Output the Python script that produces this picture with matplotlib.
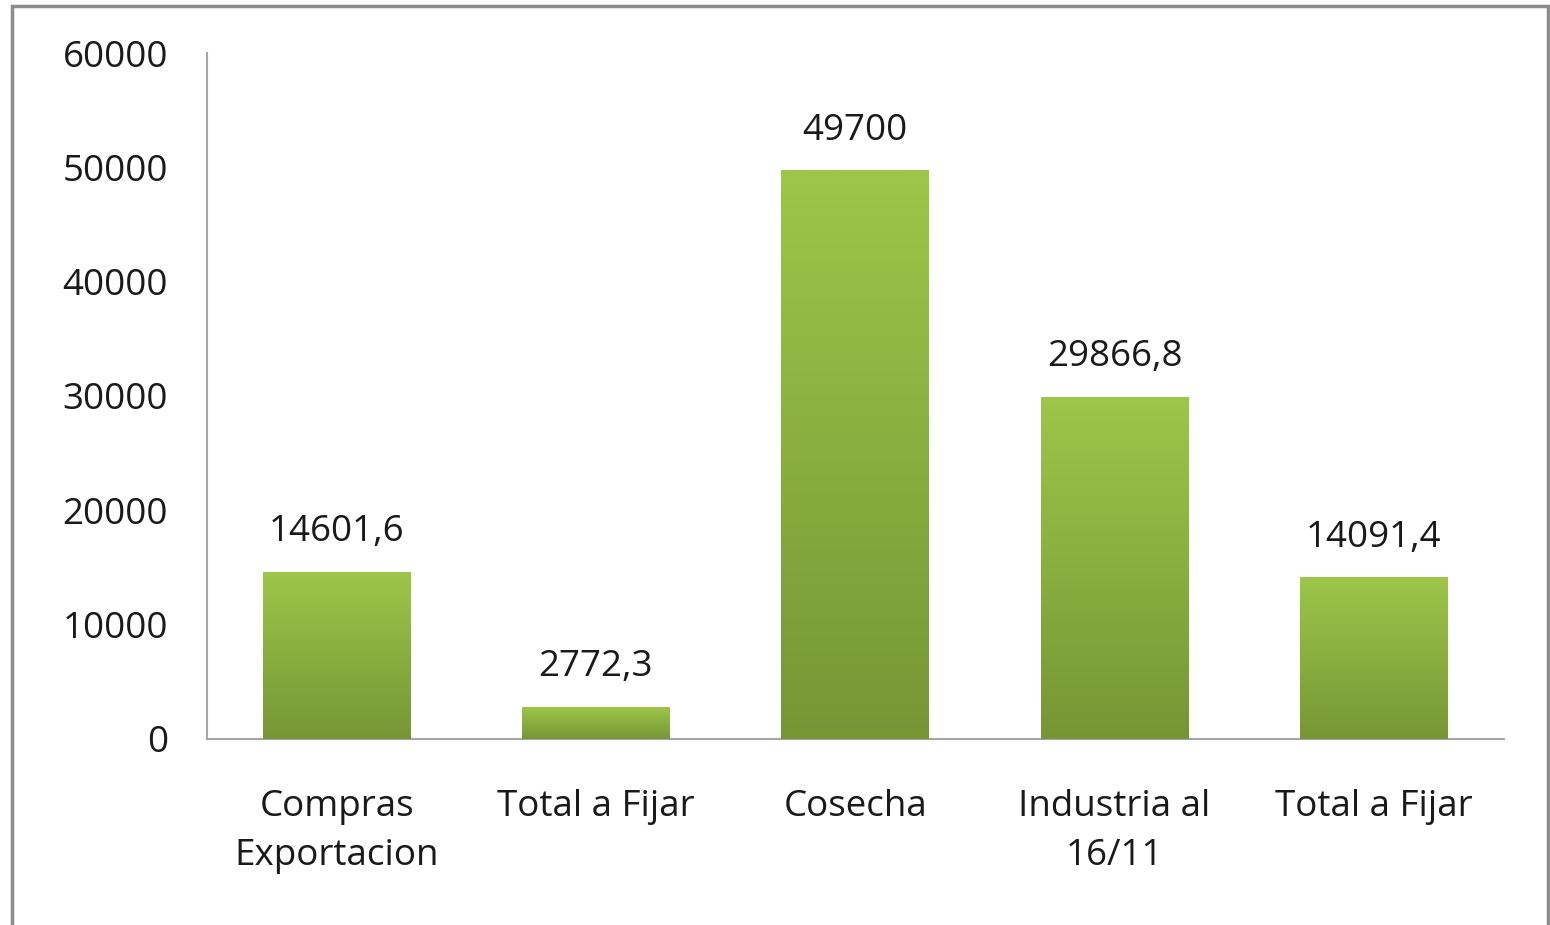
import numpy as np
import matplotlib.pyplot as plt
from matplotlib.colors import LinearSegmentedColormap
from matplotlib.patches import Rectangle

# data
categories = ['Compras\nExportacion', 'Total a Fijar', 'Cosecha', 'Industria al\n16/11', 'Total a Fijar']
values = [14601.6, 2772.3, 49700, 29866.8, 14091.4]
value_labels = ['14601,6', '2772,3', '49700', '29866,8', '14091,4']
yticks = [0, 10000, 20000, 30000, 40000, 50000, 60000]

plt.rcParams['font.family'] = ['Open Sans', 'DejaVu Sans']

fig = plt.figure(figsize=(15.5, 9.25), dpi=100)
ax = fig.add_axes([0.1335, 0.2011, 0.8365, 0.7416])

x = np.arange(len(categories))
width = 0.57
bars = ax.bar(x, values, width=width, color='#8BAE42', zorder=2)

# vertical gradient on each bar, light on top, darker at the bottom
cmap = LinearSegmentedColormap.from_list('grn', ['#769635', '#9DC64A'])
grad = np.linspace(0, 1, 256).reshape(-1, 1)
for b in bars:
    x0 = b.get_x()
    h = b.get_height()
    ax.imshow(grad, cmap=cmap, origin='lower', aspect='auto',
              extent=(x0, x0 + width, 0, h), zorder=3)

fs = 26.5
for xi, v, lab in zip(x, values, value_labels):
    ax.annotate(lab, (xi, v), xytext=(0, 16), textcoords='offset points',
                ha='center', va='bottom', fontsize=fs, color='#1a1a1a')

ax.set_xlim(-0.5, len(categories) - 0.5)
ax.set_ylim(0, 60000)
ax.set_yticks(yticks)
ax.set_yticklabels([str(t) for t in yticks], fontsize=fs, color='#1a1a1a')
ax.set_xticks(x)
ax.set_xticklabels(categories, fontsize=fs, color='#1a1a1a', linespacing=1.5)
ax.tick_params(axis='y', length=0, pad=28)
ax.tick_params(axis='x', length=0, pad=36)

for s in ['top', 'right']:
    ax.spines[s].set_visible(False)
ax.spines['left'].set_color('#A6A6A6')
ax.spines['bottom'].set_color('#A6A6A6')
ax.spines['left'].set_linewidth(1.5)
ax.spines['bottom'].set_linewidth(1.5)

# chart area border
fig.patches.append(Rectangle((0.0077, -0.02), 0.991, 1.0135, transform=fig.transFigure,
                             fill=False, edgecolor='#8C8C8C', linewidth=2.5))

fig.savefig('out.png', dpi=100)
